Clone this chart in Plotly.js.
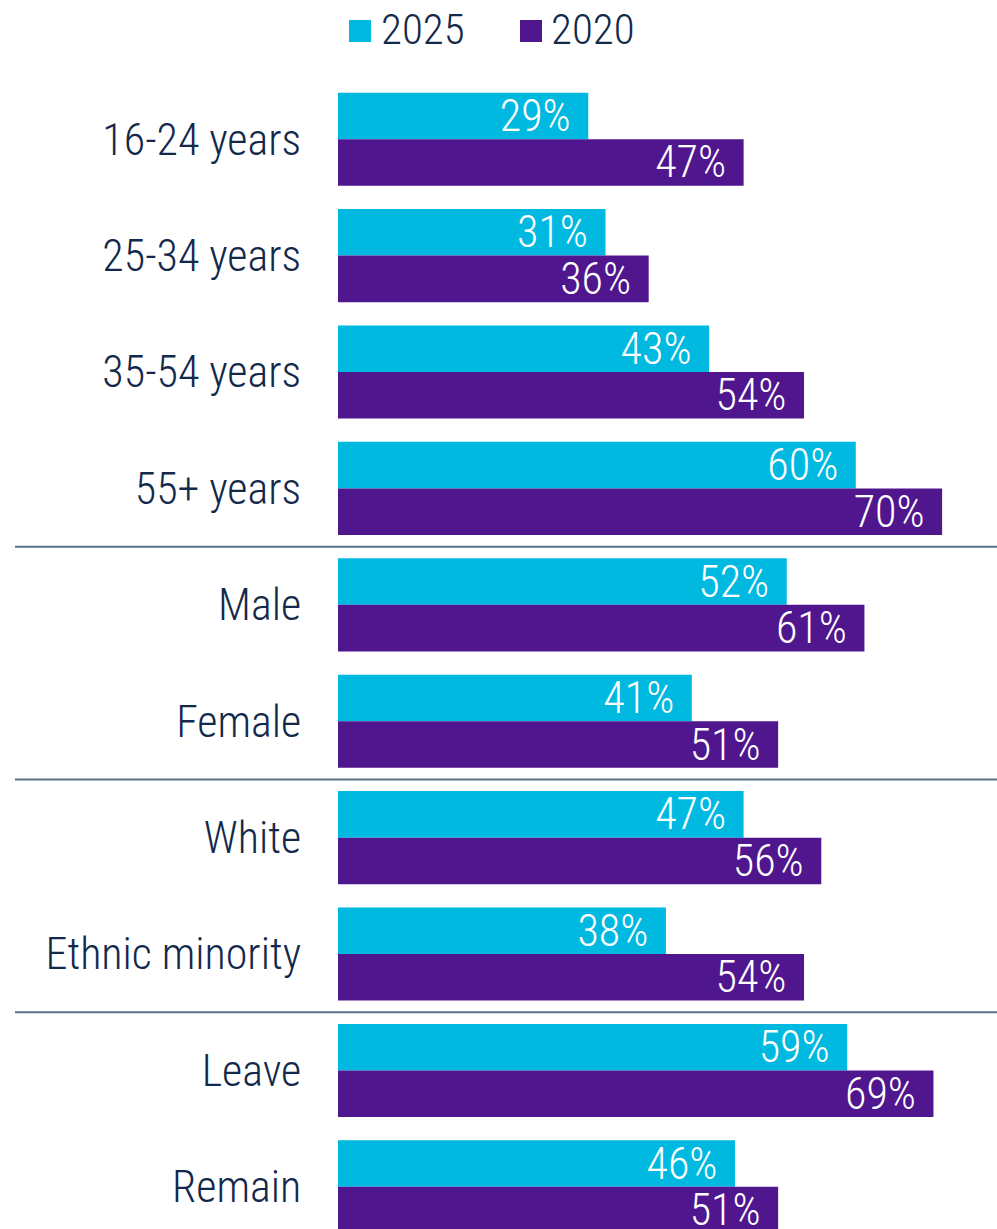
<!DOCTYPE html>
<html>
<head>
<meta charset="utf-8">
<script src="https://cdn.plot.ly/plotly-3.0.1.min.js"></script>
<style>
html,body{margin:0;padding:0;background:#fff;}
#chart{width:997px;height:1229px;}
</style>
</head>
<body>
<div id="chart"></div>
<script>
const categories = ["16-24 years","25-34 years","35-54 years","55+ years","Male","Female","White","Ethnic minority","Leave","Remain"];
const values2025 = [29,31,43,60,52,41,47,38,59,46];
const values2020 = [47,36,54,70,61,51,56,54,69,51];
const seriesNames = ["2025","2020"];
const seriesColors = ["#00B9E0","#50168E"];
const separatorsAfter = [3,5,7];

const FONT = "'Liberation Sans Narrow','Arial Narrow','Roboto Condensed',Roboto,sans-serif";
const NAVY = "#13294B";

function barTrace(name, vals, color){
  return {
    type:'bar', orientation:'h', name:name,
    y:categories, x:vals,
    marker:{color:color, line:{width:0}},
    text:vals.map(v=>v+"%\u00A0\u200A"),
    texttemplate:"%{text}",
    textposition:'inside', insidetextanchor:'end',
    constraintext:'none',
    textfont:{family:FONT, size:44, color:'#ffffff', weight:300},
    hoverinfo:'skip', cliponaxis:false
  };
}

const data = [barTrace(seriesNames[0], values2025, seriesColors[0]),
              barTrace(seriesNames[1], values2020, seriesColors[1])];

const plotTop = 81, H = 1229, W = 997, L = 338;
const pyToPaper = py => (H - py)/(H - plotTop);
const pxToPaper = px => (px - L)/(W - L);

const shapes = separatorsAfter.map(i=>({
  type:'line', xref:'paper', yref:'y',
  x0:pxToPaper(15), x1:1, y0:i+0.5, y1:i+0.5,
  line:{color:'#5B6F86', width:2}
}));
// custom legend squares
const legendSq = [[349,371],[520,542]];
legendSq.forEach((sx,k)=>{
  shapes.push({type:'rect', xref:'paper', yref:'paper',
    x0:pxToPaper(sx[0]), x1:pxToPaper(sx[1]),
    y0:pyToPaper(42), y1:pyToPaper(20),
    fillcolor:seriesColors[k], line:{width:0}});
});
const legendTextX = [379, 549];
const annotations = seriesNames.map((n,k)=>({
  xref:'paper', yref:'paper', x:pxToPaper(legendTextX[k]), y:pyToPaper(29),
  xanchor:'left', yanchor:'middle', showarrow:false,
  text:n, font:{family:FONT, size:43, color:NAVY, weight:300}
}));

const layout = {
  width:W, height:H,
  margin:{l:L, r:0, t:plotTop, b:0, pad:0},
  paper_bgcolor:'#fff', plot_bgcolor:'#fff',
  barmode:'group', bargap:0.2, bargroupgap:0,
  showlegend:false,
  xaxis:{range:[0,(W-L)/8.63], visible:false, fixedrange:true},
  yaxis:{type:'category', categoryorder:'array', categoryarray:categories,
    range:[9.362,-0.5], showgrid:false, zeroline:false, showline:false,
    ticks:'outside', ticklen:27, tickcolor:'rgba(0,0,0,0)',
    tickfont:{family:FONT, size:44, color:NAVY, weight:300}, fixedrange:true},
  shapes:shapes,
  annotations:annotations,
  font:{family:FONT}
};

Plotly.newPlot('chart', data, layout, {displayModeBar:false, staticPlot:true});
</script>
</body>
</html>
